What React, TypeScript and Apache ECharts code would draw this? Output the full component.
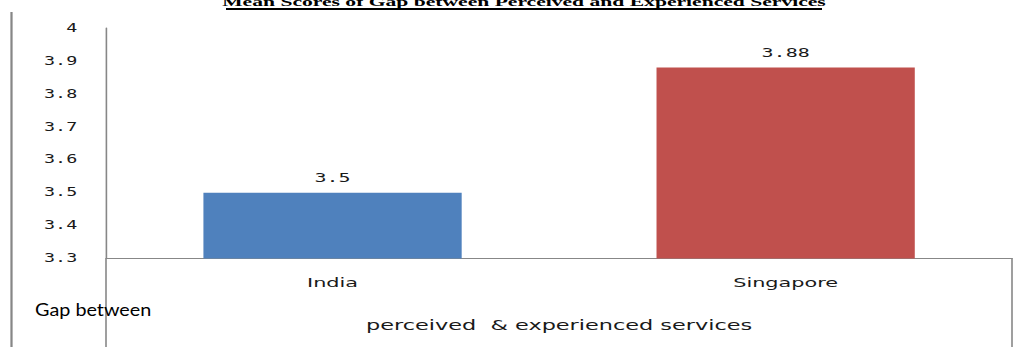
import React, { useEffect, useRef } from "react";
import * as echarts from "echarts";

const title = "Mean Scores of Gap between Perceived and Experienced Services";
const categories = ["India", "Singapore"];
const meanScores = [3.5, 3.88];
const barColors = ["#4F81BD", "#C0504D"];
const yMin = 3.3;
const yMax = 4;
const yInterval = 0.1;
const xAxisName = "perceived  & experienced services";
const sideLabel = "Gap between";

const W = 1027;
const H = 347;
const S = 1.6; // horizontal stretch of the whole picture
const PW = W / S;

const gridLeft = 106 / S;
const gridRight = PW - 1012 / S;
const gridTop = 28;
const gridBottom = H - 258.5;
const axisColor = "#878787";

export default function App() {
  const ref = useRef<HTMLDivElement>(null);
  useEffect(() => {
    if (!ref.current) return;
    const chart = echarts.init(ref.current, undefined, { renderer: "svg" });
    const axisY = H - gridBottom;
    const rightX = PW - gridRight;
    chart.setOption({
      animation: false,
      backgroundColor: "#ffffff",
      grid: { left: gridLeft, right: gridRight, top: gridTop, bottom: gridBottom, containLabel: false },
      xAxis: {
        type: "category",
        data: categories,
        name: xAxisName,
        nameLocation: "middle",
        nameGap: 60,
        nameTextStyle: { fontFamily: "DejaVu Sans", fontSize: 14, color: "#1a1a1a" },
        axisLine: { show: true, lineStyle: { color: axisColor, width: 1 } },
        axisTick: { show: false },
        axisLabel: { fontFamily: "DejaVu Sans", fontSize: 13, color: "#1a1a1a", margin: 17 },
        splitLine: { show: false },
      },
      yAxis: {
        type: "value",
        min: yMin,
        max: yMax,
        interval: yInterval,
        axisLine: { show: true, lineStyle: { color: axisColor, width: 1 } },
        axisTick: { show: false },
        splitLine: { show: false },
        axisLabel: { fontFamily: "DejaVu Sans Mono", fontSize: 11.5, color: "#1a1a1a", margin: 18 },
      },
      series: [
        {
          type: "bar",
          barWidth: "57%",
          data: meanScores.map((v, i) => ({ value: v, itemStyle: { color: barColors[i] } })),
          label: {
            show: true,
            position: "top",
            distance: 8,
            fontFamily: "DejaVu Sans Mono",
            fontSize: 12.5,
            color: "#1a1a1a",
          },
        },
      ],
      graphic: [
        {
          type: "text",
          x: ((226 + 822) / 2) / S,
          y: 1.3,
          style: {
            text: title,
            font: 'bold 13.5px "Liberation Serif"',
            fill: "#000",
            align: "center",
            verticalAlign: "middle",
          },
        },
        {
          type: "rect",
          shape: { x: 226 / S, y: 8, width: (822 - 226) / S, height: 2 },
          style: { fill: "#000" },
        },
        {
          type: "line",
          shape: { x1: 11.5 / S, y1: 12, x2: 11.5 / S, y2: H },
          style: { stroke: axisColor, lineWidth: 1.4 },
        },
        {
          type: "line",
          shape: { x1: gridLeft, y1: axisY, x2: gridLeft, y2: H },
          style: { stroke: axisColor, lineWidth: 1 },
        },
        {
          type: "line",
          shape: { x1: rightX, y1: axisY, x2: rightX, y2: H },
          style: { stroke: axisColor, lineWidth: 1 },
        },
        {
          type: "text",
          x: 35 / S,
          y: 310,
          scaleX: 0.75,
          style: {
            text: sideLabel,
            font: '16.5px "Lato"',
            fill: "#000",
            align: "left",
            verticalAlign: "middle",
          },
        },
      ],
    });
    return () => chart.dispose();
  }, []);
  return (
    <div style={{ position: "absolute", left: 0, top: 0, width: W, height: H, overflow: "hidden", background: "#fff" }}>
      <div
        ref={ref}
        style={{ width: PW, height: H, transform: `scaleX(${S})`, transformOrigin: "0 0" }}
      />
    </div>
  );
}
